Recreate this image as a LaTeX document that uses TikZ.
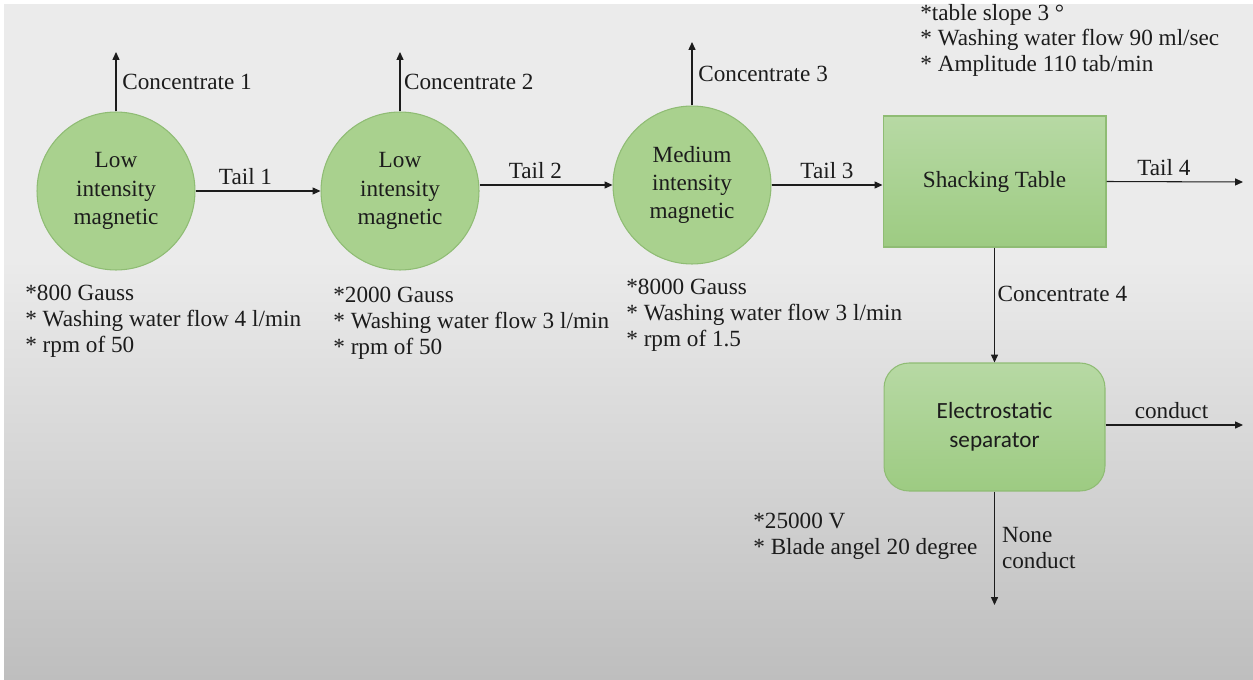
\documentclass[tikz,border=0pt]{standalone}
\usepackage{fontspec}
\setmainfont{Liberation Serif}
\newfontfamily\timesfont{Liberation Serif}
\newfontfamily\calibrifont{Carlito}
\usetikzlibrary{positioning,arrows.meta}
\definecolor{leafgreen}{HTML}{A9D18E}
\definecolor{leafedge}{HTML}{8FBC74}
\definecolor{tabletop}{HTML}{B7D9A4}
\definecolor{tablebot}{HTML}{9DCB82}
\definecolor{inkgrey}{HTML}{1C1C1C}
\definecolor{slidetop}{HTML}{EBEBEB}
\definecolor{slidebot}{HTML}{BEBEBE}
\begin{document}
\begin{tikzpicture}[x=0.02cm, y=-0.02cm, font=\timesfont\fontsize{13.2}{14.8}\selectfont,
    every node/.append style={text=inkgrey},
    magsep/.style={circle, draw=leafedge, line width=0.6pt, fill=leafgreen, minimum size=3.16cm, inner sep=0pt, align=center, font=\timesfont\fontsize{13.2}{16}\selectfont},
    unitbox/.style={rectangle, draw=leafedge, line width=0.6pt, top color=tabletop, bottom color=tablebot, inner sep=0pt},
    flow/.style={-{Triangle[length=4.5pt,width=4pt]}, line width=0.6pt, draw=inkgrey},
    note/.style={anchor=north west, inner sep=0pt, align=left}]
    % slide background
    \useasboundingbox (0,0) rectangle (1253,679);
    \fill[white] (0,0) rectangle (1253,679);
    \fill[slidetop] (4,4) rectangle (1253,261);
    \shade[top color=slidetop, bottom color=slidebot] (4,260) rectangle (1253,679);

    % separators
    \node[magsep] (mag1) at (116,191) {Low\\intensity\\magnetic};
    \node[magsep] (mag2) at (400,191) {Low\\intensity\\magnetic};
    \node[magsep] (mag3) at (692,185) {Medium\\intensity\\magnetic};
    \node[unitbox, minimum width=4.46cm, minimum height=2.62cm] (table) at (994.5,181.5) {Shacking Table};
    \node[unitbox, rounded corners=0.5cm, minimum width=4.42cm, minimum height=2.56cm, align=center,
        font=\calibrifont\fontsize{13.2}{16.4}\selectfont] (elec) at (994.5,427) {Electrostatic\\separator};

    % free ends
    \coordinate (out1) at (116,52);
    \coordinate (out2) at (400,52);
    \coordinate (out3) at (692,42);
    \coordinate (tail4) at (1243,182);
    \coordinate (cond) at (1243,425);
    \coordinate (nocond) at (994.5,605);

    % streams
    \draw[flow] (mag1.north) -- node[right]{Concentrate 1} (out1);
    \draw[flow] (mag2.north) -- node[right, inner sep=2pt]{Concentrate 2} (out2);
    \draw[flow] (mag3.north) -- node[right]{Concentrate 3} (out3);
    \draw[flow] (mag1.east) -- node[above, pos=0.4]{Tail 1} (mag2.west);
    \draw[flow] (mag2.east |- mag3.west) -- node[above, pos=0.42]{Tail 2} (mag3.west);
    \draw[flow] (mag3.east) -- node[above]{Tail 3} (mag3.east -| table.west);
    \draw[flow] (table.east) -- node[above, pos=0.42]{Tail 4} (tail4);
    \draw[flow] (table.south) -- node[right, pos=0.4, inner sep=1.5pt]{Concentrate 4} (elec.north);
    \draw[flow] (elec.east |- cond) -- node[above, pos=0.48]{conduct} (cond);
    \draw[flow] (elec.south) -- node[right, pos=0.5, align=left, inner sep=4pt]{None\\conduct} (nocond);

    % operating conditions
    \node[note] (cond1) at (25,285) {*800 Gauss\\* Washing water flow 4 l/min\\* rpm of 50};
    \node[note] (cond2) at (333,287) {*2000 Gauss\\* Washing water flow 3 l/min\\* rpm of 50};
    \node[note] (cond3) at (626,279) {*8000 Gauss\\* Washing water flow 3 l/min\\* rpm of 1.5};
    \node[note, font=\timesfont\fontsize{13.2}{14.4}\selectfont] (cond4) at (920,4) {*table slope 3 °\\* Washing water flow 90 ml/sec\\* Amplitude 110 tab/min};
    \node[note] (cond5) at (753,513) {*25000 V\\* Blade angel 20 degree};
\end{tikzpicture}
\end{document}
